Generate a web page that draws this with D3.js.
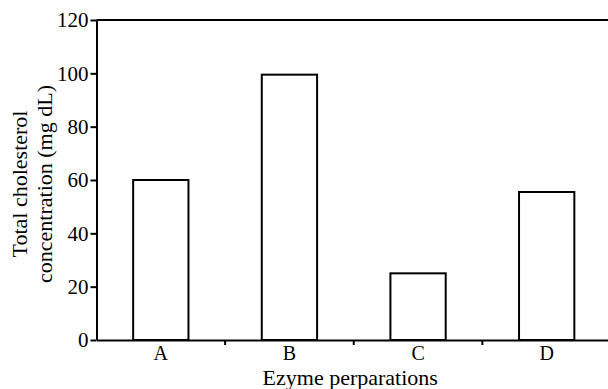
<!DOCTYPE html>
<html>
<head>
<meta charset="utf-8">
<script src="https://cdn.jsdelivr.net/npm/d3@7"></script>
<style>
  body { margin: 0; background: #fff; }
</style>
</head>
<body>
<div id="chart"></div>
<script>
// Data
const categories = ["A", "B", "C", "D"];
const values = [60, 99.5, 25, 55.5];
const yTicks = [0, 20, 40, 60, 80, 100, 120];

const font = "'Liberation Serif', 'Times New Roman', serif";

// Dimensions
const width = 608;
const height = 389;
const margin = { top: 20, right: -3, bottom: 49, left: 96.5 };

const svg = d3
  .select("#chart")
  .append("svg")
  .attr("width", width)
  .attr("height", height)
  .attr("font-family", font);

const x = d3
  .scaleBand()
  .domain(categories)
  .range([margin.left, width - margin.right])
  .padding(0);

const y = d3
  .scaleLinear()
  .domain([0, 120])
  .range([height - margin.bottom, margin.top]);

const barW = x.bandwidth() * 0.43;

// Bars
svg
  .selectAll("rect.bar")
  .data(values)
  .join("rect")
  .attr("class", "bar")
  .attr("x", (d, i) => x(categories[i]) + (x.bandwidth() - barW) / 2)
  .attr("y", d => y(d))
  .attr("width", barW)
  .attr("height", d => y(0) - y(d))
  .attr("fill", "#fff")
  .attr("stroke", "#000")
  .attr("stroke-width", 2);

// Top frame line
svg
  .append("line")
  .attr("x1", margin.left)
  .attr("x2", width + 5)
  .attr("y1", y(120))
  .attr("y2", y(120))
  .attr("stroke", "#000")
  .attr("stroke-width", 2);

// Y axis
const yAxis = svg
  .append("g")
  .attr("transform", `translate(${margin.left},0)`)
  .call(d3.axisLeft(y).tickValues(yTicks).tickSize(6).tickPadding(2).tickSizeOuter(0))
  .attr("font-family", font)
  .attr("font-size", "21px");

yAxis.select(".domain").attr("stroke-width", 2);
yAxis.selectAll(".tick line").attr("stroke-width", 2);

// X axis (labels centred under the bars, ticks at band edges)
const xAxis = svg
  .append("g")
  .attr("transform", `translate(0,${y(0)})`)
  .call(d3.axisBottom(x).tickSize(0).tickPadding(6).tickSizeOuter(0))
  .attr("font-family", font)
  .attr("font-size", "20px");

xAxis.select(".domain").attr("stroke-width", 2);

xAxis
  .selectAll("line.sep")
  .data(categories.slice(1))
  .join("line")
  .attr("class", "sep")
  .attr("x1", d => x(d))
  .attr("x2", d => x(d))
  .attr("y1", 0)
  .attr("y2", 5)
  .attr("stroke", "#000")
  .attr("stroke-width", 2);

// Axis titles
svg
  .append("text")
  .attr("x", (margin.left + width) / 2 - 2)
  .attr("y", 385)
  .attr("text-anchor", "middle")
  .attr("font-size", "22px")
  .text("Ezyme perparations");

const yTitle = svg
  .append("text")
  .attr("transform", "translate(27,184) rotate(-90)")
  .attr("text-anchor", "middle")
  .attr("font-size", "22px");

yTitle.append("tspan").attr("x", 0).attr("dy", 0).text("Total cholesterol");
yTitle.append("tspan").attr("x", 0).attr("dy", 25).text("concentration (mg dL)");
</script>
</body>
</html>
